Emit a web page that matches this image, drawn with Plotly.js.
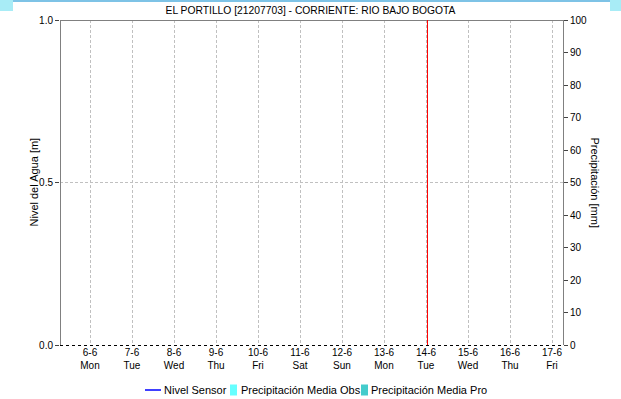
<!DOCTYPE html>
<html><head><meta charset="utf-8">
<script src="https://cdn.plot.ly/plotly-3.0.1.min.js"></script>
<style>
html,body{margin:0;padding:0;background:#fff;}
#wrap{position:relative;width:621px;height:399px;}
#chart{width:621px;height:399px;}
.deco{position:absolute;}
</style></head>
<body>
<div id="wrap">
<div id="chart"></div>
<div class="deco" style="left:0;top:0;width:621px;height:2px;background:#7ec3e6;"></div>
<div class="deco" style="left:0;top:0;width:13px;height:11px;background:#a8ecf6;"></div>
<div class="deco" style="left:610px;top:0;width:11px;height:11px;background:#a8ecf6;"></div>
</div>
<script>
const chartTitle = 'EL PORTILLO [21207703] - CORRIENTE: RIO BAJO BOGOTA';
const dayDates = ['2022-06-06','2022-06-07','2022-06-08','2022-06-09','2022-06-10','2022-06-11','2022-06-12','2022-06-13','2022-06-14','2022-06-15','2022-06-16','2022-06-17'];
const dayLabels = ['6-6','7-6','8-6','9-6','10-6','11-6','12-6','13-6','14-6','15-6','16-6','17-6'];
const weekdayLabels = ['Mon','Tue','Wed','Thu','Fri','Sat','Sun','Mon','Tue','Wed','Thu','Fri'];
const seriesNames = ['Nivel Sensor','Precipitación Media Obs','Precipitación Media Pro'];
const seriesColors = ['#0000ff','#66ffff','#44cccc'];
const nivelSensor = dayDates.map(() => null);
const precipObs = dayDates.map(() => null);
const precipPro = dayDates.map(() => null);
const nowMarker = '2022-06-14 00:51';
const xStart = '2022-06-05 06:51';
const xEnd = '2022-06-17 06:17';

const tickText = dayLabels.map((d,i) => d + '<br>' + weekdayLabels[i]);
const fam = 'Liberation Sans, Arial, sans-serif';
const font = {family: fam, size: 11, color: '#000'};

// plot area geometry (px) for placing frame and legend items
const PL = 60, PW = 503, PT = 20, PH = 325;
const px = v => (v - PL) / PW;
const py = v => (PT + PH - v) / PH;
const legY = 390;

const traces = [
  {type:'scatter', mode:'lines', name:seriesNames[0], x: dayDates, y: nivelSensor, line:{color:seriesColors[0], width:1.5}, yaxis:'y', showlegend:false},
  {type:'bar', name:seriesNames[1], x: dayDates, y: precipObs, marker:{color:seriesColors[1]}, yaxis:'y2', showlegend:false},
  {type:'bar', name:seriesNames[2], x: dayDates, y: precipPro, marker:{color:seriesColors[2]}, yaxis:'y2', showlegend:false}
];

// legend (symbol + label) positions
const legSym = [[145,161],[230,237],[361,368]];
const legText = [163,240,370];

const shapes = [
  {type:'line', xref:'paper', yref:'paper', x0:px(60), x1:px(563.5), y0:py(20.5), y1:py(20.5), line:{color:'#808080', width:1}},
  {type:'line', xref:'paper', yref:'paper', x0:px(60.5), x1:px(60.5), y0:py(345), y1:py(20), line:{color:'#808080', width:1}},
  {type:'line', xref:'paper', yref:'paper', x0:px(563.5), x1:px(563.5), y0:py(345), y1:py(20), line:{color:'#808080', width:1}},
  {type:'line', xref:'paper', yref:'paper', x0:px(60), x1:px(564), y0:py(345.5), y1:py(345.5), line:{color:'#000', width:1, dash:'dot'}},
  {type:'line', xref:'x', yref:'paper', x0:nowMarker, x1:nowMarker, y0:0, y1:1, line:{color:'#ff0000', width:1}},
  {type:'line', xref:'paper', yref:'paper', x0:px(legSym[0][0]), x1:px(legSym[0][1]), y0:py(legY), y1:py(legY), line:{color:seriesColors[0], width:1.5}},
  {type:'rect', xref:'paper', yref:'paper', x0:px(legSym[1][0]), x1:px(legSym[1][1]), y0:py(legY-5.5), y1:py(legY+5.5), line:{width:0}, fillcolor:seriesColors[1]},
  {type:'rect', xref:'paper', yref:'paper', x0:px(legSym[2][0]), x1:px(legSym[2][1]), y0:py(legY-5.5), y1:py(legY+5.5), line:{width:0}, fillcolor:seriesColors[2]}
];

const annotations = [
  {text:'Nivel del Agua [m]', textangle:-90, xref:'paper', yref:'paper', x:px(33), y:0.5, xanchor:'center', yanchor:'middle', showarrow:false, font:{family:fam, size:11, color:'#000'}},
  {text:'Precipitación [mm]', textangle:90, xref:'paper', yref:'paper', x:px(595), y:0.5, xanchor:'center', yanchor:'middle', showarrow:false, font:{family:fam, size:11, color:'#000'}}
].concat(seriesNames.map((n,i) => ({text:n, xref:'paper', yref:'paper', x:px(legText[i]), y:py(legY), xanchor:'left', yanchor:'middle', showarrow:false, font:{family:fam, size:11, color:'#000'}, borderpad:0})));

const layout = {
  width: 621, height: 399,
  margin: {l:60, r:58, t:20, b:54, autoexpand:false},
  paper_bgcolor:'#fff', plot_bgcolor:'#fff',
  font: font,
  title: {text: chartTitle, x:0.5, xanchor:'center', y: 1 - 10/399, yanchor:'middle', font:{family:fam, size:10.3, color:'#000'}},
  showlegend: false,
  xaxis: {type:'date', range:[xStart, xEnd], tickvals: dayDates, ticktext: tickText, ticks:'', showgrid:true, gridcolor:'#c0c0c0', griddash:'3px,2px', gridwidth:1, showline:false, zeroline:false, tickfont:{family:fam, size:10, color:'#000'}},
  yaxis: {range:[0,1], tickvals:[0,0.5,1], ticktext:['0.0','0.5','1.0'], ticks:'outside', ticklen:4, tickcolor:'#444', showgrid:true, gridcolor:'#c0c0c0', griddash:'3px,2px', zeroline:false, showline:false, tickfont:{family:fam, size:10, color:'#000'}},
  yaxis2: {overlaying:'y', side:'right', range:[0,100], dtick:10, ticks:'outside', ticklen:4, tickcolor:'#444', showgrid:false, zeroline:false, showline:false, tickfont:{family:fam, size:10, color:'#000'}},
  annotations: annotations,
  shapes: shapes
};
Plotly.newPlot('chart', traces, layout, {displayModeBar:false, staticPlot:true});
</script>
</body></html>
